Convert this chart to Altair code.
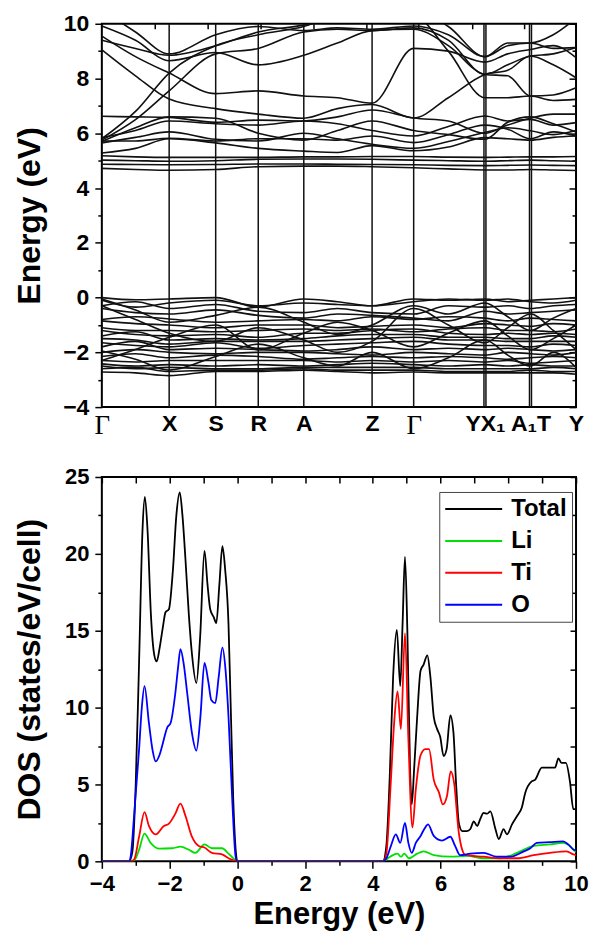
import altair as alt
import pandas as pd

# ---------------- band structure (top panel) ----------------
# k-path nodes: Γ, mid, X, S, R, A, mid, Z, Γ, mid, Y/X1, mid, A1/T, mid, Y
k_nodes = [0, 34, 68, 115, 158, 204, 238, 273, 315, 350, 387, 410, 433, 456, 479]
sym_lines = [68, 115, 158, 204, 273, 315, 386, 388, 432, 434]
sym_label_k = [0, 68, 115, 158, 204, 273, 315, 387, 433, 479]
sym_labels = ["Γ", "X", "S", "R", "A", "Z", "Γ", "YX₁", "A₁T", "Y"]

conduction_bands = [
    [4.72, 4.68, 4.65, 4.68, 4.78, 4.80, 4.80, 4.78, 4.74, 4.70, 4.66, 4.66, 4.68, 4.66, 4.64],
    [4.87, 4.86, 4.85, 4.86, 4.88, 4.88, 4.87, 4.86, 4.85, 4.83, 4.82, 4.83, 4.84, 4.83, 4.82],
    [5.02, 5.00, 4.98, 5.00, 5.05, 5.06, 5.06, 5.05, 5.02, 5.00, 4.98, 5.00, 5.02, 5.00, 4.98],
    [5.18, 5.14, 5.12, 5.12, 5.12, 5.14, 5.14, 5.15, 5.15, 5.13, 5.12, 5.13, 5.14, 5.14, 5.15],
    [5.28, 5.45, 5.80, 5.65, 5.45, 5.35, 5.30, 5.55, 5.36, 5.50, 5.84, 5.80, 5.75, 5.85, 5.90],
    [5.65, 5.85, 6.05, 5.78, 5.72, 6.00, 5.80, 5.60, 5.45, 5.70, 6.03, 6.20, 6.09, 5.95, 6.10],
    [5.72, 5.72, 5.82, 5.72, 5.80, 5.80, 5.75, 5.90, 5.66, 5.95, 6.30, 6.15, 5.80, 6.05, 5.90],
    [5.84, 6.10, 6.45, 6.35, 6.30, 6.45, 6.35, 6.10, 5.90, 6.25, 6.63, 6.45, 6.51, 6.30, 6.39],
    [6.62, 6.60, 6.58, 6.40, 6.48, 6.45, 6.60, 6.85, 6.56, 6.45, 6.00, 6.30, 6.55, 6.70, 6.70],
    [5.75, 6.50, 7.55, 8.90, 9.10, 9.70, 9.80, 9.75, 9.85, 9.40, 8.15, 8.50, 8.82, 8.90, 9.13],
    [5.80, 6.80, 8.20, 9.20, 9.60, 9.90, 10.3, 10.3, 10.5, 9.90, 8.80, 9.30, 9.30, 9.60, 10.2],
    [9.55, 8.80, 8.20, 7.45, 7.55, 7.36, 7.30, 7.10, 9.10, 9.00, 8.60, 8.90, 9.06, 9.20, 8.76],
    [9.05, 8.10, 7.25, 6.90, 6.70, 6.55, 6.90, 7.05, 6.56, 7.30, 8.15, 8.30, 8.82, 8.50, 8.03],
    [9.92, 9.40, 8.65, 8.95, 8.50, 8.85, 9.30, 9.75, 9.80, 9.20, 8.15, 8.10, 7.36, 7.40, 7.66],
    [10.5, 9.70, 8.90, 9.60, 9.90, 9.75, 9.85, 9.80, 9.92, 9.60, 8.80, 9.20, 9.30, 9.10, 9.13],
    [9.40, 9.10, 8.85, 9.20, 9.70, 9.95, 10.2, 10.4, 10.3, 9.00, 7.30, 7.30, 7.36, 7.20, 7.24],
    [5.70, 6.20, 6.60, 6.55, 6.00, 5.75, 6.10, 6.45, 6.10, 5.95, 5.78, 6.40, 6.60, 6.35, 6.05],
]

valence_bands = [
    [0.00, -0.08, -0.05, 0.00, -0.35, -0.05, -0.15, -0.30, -0.05, -0.10, -0.05, -0.15, -0.10, -0.05, 0.00],
    [-0.10, -0.35, -0.20, -0.10, -0.30, -0.20, -0.25, -0.30, -0.15, -0.05, -0.10, -0.05, -0.15, -0.20, -0.10],
    [-0.30, -0.15, -0.40, -0.25, -0.50, -0.55, -0.40, -0.55, -0.60, -0.30, -0.35, -0.30, -0.40, -0.30, -0.25],
    [-0.40, -0.55, -0.60, -0.45, -0.65, -0.75, -0.60, -0.65, -0.75, -0.85, -0.50, -0.60, -0.55, -0.50, -0.45],
    [-0.80, -0.70, -0.78, -0.90, -0.85, -0.80, -0.85, -0.70, -0.80, -0.70, -0.75, -0.85, -0.75, -0.80, -0.85],
    [-0.85, -0.95, -1.00, -1.10, -1.00, -1.00, -1.10, -1.05, -1.00, -1.10, -0.95, -1.00, -1.05, -0.95, -1.00],
    [-1.10, -1.20, -1.20, -1.25, -1.20, -1.15, -1.20, -1.15, -1.25, -1.15, -1.10, -1.20, -1.20, -1.25, -1.15],
    [-1.20, -1.35, -1.40, -1.35, -1.45, -1.30, -1.30, -1.20, -1.15, -1.30, -1.35, -1.30, -1.35, -1.30, -1.35],
    [-1.40, -1.25, -1.55, -1.50, -1.55, -1.50, -1.40, -1.35, -1.35, -1.45, -1.45, -1.50, -1.50, -1.40, -1.45],
    [-1.50, -1.55, -1.70, -1.60, -1.60, -1.60, -1.55, -1.50, -1.45, -1.55, -1.55, -1.60, -1.60, -1.60, -1.60],
    [-1.65, -1.75, -1.80, -1.65, -1.85, -1.75, -1.70, -1.65, -1.60, -1.70, -1.75, -1.75, -1.80, -1.70, -1.75],
    [-1.80, -1.60, -1.90, -1.85, -1.90, -1.95, -1.90, -1.80, -1.90, -1.85, -1.90, -1.85, -1.90, -1.95, -1.90],
    [-2.00, -1.90, -2.00, -2.05, -2.00, -2.00, -2.05, -2.10, -2.00, -2.05, -2.10, -2.00, -2.05, -2.10, -2.00],
    [-2.15, -2.05, -2.20, -2.10, -2.15, -2.25, -2.20, -2.15, -2.20, -2.15, -2.20, -2.25, -2.20, -2.15, -2.20],
    [-2.30, -2.35, -2.30, -2.30, -2.30, -2.30, -2.35, -2.30, -2.35, -2.30, -2.35, -2.30, -2.40, -2.35, -2.30],
    [-2.42, -2.50, -2.45, -2.50, -2.45, -2.50, -2.45, -2.40, -2.45, -2.50, -2.45, -2.50, -2.45, -2.50, -2.50],
    [-2.50, -2.60, -2.55, -2.60, -2.60, -2.55, -2.55, -2.55, -2.55, -2.60, -2.60, -2.60, -2.60, -2.55, -2.60],
    [-2.60, -2.55, -2.70, -2.65, -2.65, -2.60, -2.65, -2.65, -2.65, -2.70, -2.70, -2.70, -2.65, -2.70, -2.70],
    [-2.72, -2.75, -2.85, -2.70, -2.70, -2.65, -2.70, -2.75, -2.72, -2.75, -2.75, -2.75, -2.75, -2.75, -2.80],
    [-2.30, -1.90, -1.45, -1.00, -1.90, -1.30, -0.90, -1.20, -1.80, -1.30, -0.85, -1.40, -1.90, -1.50, -1.00],
    [-0.30, -0.80, -1.30, -1.60, -1.10, -1.55, -2.00, -1.60, -0.40, -1.00, -1.65, -1.10, -0.60, -1.20, -1.90],
    [-1.95, -2.25, -2.65, -2.15, -1.70, -2.20, -2.50, -2.00, -2.60, -2.20, -1.55, -2.10, -2.50, -2.00, -2.55],
    [-0.05, -0.45, -0.90, -0.65, -0.35, -0.90, -1.35, -1.00, -0.30, -0.60, -0.20, -0.70, -1.20, -0.75, -0.40],
]

band_major = [-4, -2, 0, 2, 4, 6, 8, 10]
band_minor = [-3, -1, 1, 3, 5, 7, 9]
band_top_ticks = [53, 107, 160, 214, 267, 320, 374, 427]

# ---------------- density of states (bottom panel) ----------------
total_E = [-4.0, -3.2, -3.1, -3.0, -2.9, -2.8, -2.73, -2.65, -2.55, -2.45, -2.38, -2.3, -2.2, -2.12,
           -2.02, -1.9, -1.8, -1.70, -1.62, -1.53, -1.43, -1.34, -1.21, -1.1, -0.97, -0.88, -0.80,
           -0.70, -0.62, -0.53, -0.44, -0.36, -0.26, -0.2, -0.12, -0.05, 0.0, 4.3, 4.4, 4.5, 4.6,
           4.71, 4.81, 4.88, 4.95, 5.02, 5.10, 5.15, 5.22, 5.31, 5.41, 5.50, 5.61, 5.70, 5.80, 5.90,
           5.99, 6.09, 6.18, 6.29, 6.38, 6.46, 6.54, 6.64, 6.78, 6.88, 6.98, 7.08, 7.18, 7.27, 7.38,
           7.47, 7.62, 7.72, 7.86, 7.96, 8.11, 8.26, 8.40, 8.50, 8.69, 8.79, 8.99, 9.10, 9.23, 9.38,
           9.48, 9.57, 9.70, 9.82, 9.92, 10.0]
total_D = [0, 0, 0.6, 5.0, 13.0, 21.5, 23.7, 21.5, 16.0, 13.4, 13.0, 13.8, 15.2, 16.2,
           16.4, 19.0, 22.5, 24.0, 22.5, 19.6, 16.0, 13.5, 11.6, 14.5, 20.2, 18.0, 16.4,
           15.9, 15.5, 18.0, 20.5, 19.0, 15.4, 10.5, 4.0, 0.8, 0, 0, 1.0, 5.5, 12.0,
           15.06, 11.4, 15.5, 19.8, 15.0, 6.0, 3.7, 6.0, 9.4, 12.4, 12.8, 13.4, 12.0, 9.4, 8.6,
           8.1, 6.85, 7.3, 9.5, 8.4, 5.0, 2.5, 1.97, 1.97, 2.1, 2.6, 2.3, 2.8, 3.15, 3.1,
           3.25, 2.1, 1.45, 2.1, 1.75, 2.4, 2.95, 3.5, 4.45, 5.2, 5.3, 6.1, 6.1, 6.1, 6.1,
           6.7, 6.4, 6.4, 5.2, 3.4, 3.4]

li_E = [-4.0, -3.1, -3.0, -2.9, -2.74, -2.56, -2.31, -1.92, -1.68, -1.43, -1.24, -0.97, -0.75, -0.45,
        -0.26, -0.07, 0.0, 4.3, 4.51, 4.73, 4.83, 4.93, 5.07, 5.31, 5.50, 5.80, 6.29, 6.78, 7.27,
        7.76, 8.26, 8.75, 9.23, 9.62, 9.82, 9.97, 10.0]
li_D = [0, 0, 0.2, 0.75, 1.8, 1.2, 0.82, 0.85, 0.95, 0.75, 0.55, 1.1, 0.85, 0.85,
        0.5, 0.1, 0, 0, 0.3, 0.5, 0.3, 0.5, 0.2, 0.5, 0.65, 0.4, 0.3, 0.35, 0.2,
        0.2, 0.55, 1.0, 1.1, 1.2, 1.0, 0.65, 0.6]

ti_E = [-4.0, -3.15, -3.05, -2.9, -2.74, -2.61, -2.41, -2.17, -2.02, -1.83, -1.68, -1.53, -1.34, -1.14,
        -0.97, -0.75, -0.45, -0.26, -0.1, 0.0, 4.3, 4.4, 4.53, 4.63, 4.73, 4.83, 4.95, 5.05, 5.17,
        5.27, 5.41, 5.55, 5.66, 5.80, 5.95, 6.07, 6.19, 6.30, 6.40, 6.54, 6.64, 6.74, 7.27, 7.76,
        8.26, 8.75, 9.23, 9.72, 9.92, 10.0]
ti_D = [0, 0, 0.1, 1.6, 3.2, 2.3, 1.75, 2.3, 2.45, 3.1, 3.75, 2.95, 1.6, 1.0,
        0.9, 0.55, 0.45, 0.2, 0.05, 0, 0, 0.5, 5.1, 9.0, 11.06, 8.6, 14.85, 8.0, 2.2,
        4.7, 6.9, 7.3, 7.3, 5.3, 4.5, 3.7, 4.25, 5.85, 5.1, 1.85, 0.75, 0.4, 0.3, 0.2,
        0.2, 0.4, 0.55, 0.65, 0.45, 0.4]

o_E = [-4.0, -3.2, -3.15, -3.05, -2.9, -2.82, -2.74, -2.61, -2.5, -2.41, -2.3, -2.22, -2.07, -1.97,
       -1.83, -1.75, -1.68, -1.58, -1.48, -1.34, -1.21, -1.09, -0.97, -0.85, -0.77, -0.65, -0.55,
       -0.44, -0.35, -0.26, -0.15, -0.05, 0.0, 4.3, 4.4, 4.53, 4.68, 4.81, 4.95, 5.05, 5.15, 5.27,
       5.41, 5.52, 5.63, 5.80, 6.04, 6.29, 6.43, 6.58, 6.88, 7.27, 7.66, 8.06, 8.46, 8.65, 8.84,
       9.23, 9.62, 9.77, 9.92, 10.0]
o_D = [0, 0, 0.3, 2.9, 7.3, 10.0, 11.4, 9.0, 7.2, 6.5, 6.9, 7.5, 8.7, 9.0,
       10.95, 12.6, 13.8, 12.8, 10.95, 8.35, 7.2, 9.4, 12.9, 11.6, 10.5, 10.3, 12.0,
       13.9, 12.5, 9.4, 4.0, 0.3, 0, 0, 0.2, 0.97, 1.75, 1.2, 2.5, 1.2, 0.55, 1.2,
       1.65, 2.1, 2.4, 1.65, 1.35, 1.6, 1.0, 0.4, 0.5, 0.55, 0.3, 0.3, 0.65, 0.85, 1.2,
       1.25, 1.3, 1.1, 0.77, 0.7]

series_names = ["Total", "Li", "Ti", "O"]
series_colors = ["#000000", "#00e000", "#ff0000", "#0000ff"]

dos_major_x = [-4, -2, 0, 2, 4, 6, 8, 10]
dos_minor_x = [-3, -1, 1, 3, 5, 7, 9]
dos_all_x = [-4, -3, -2, -1, 0, 1, 2, 3, 4, 5, 6, 7, 8, 9, 10]
dos_major_y = [0, 5, 10, 15, 20, 25]
dos_minor_y = [2.5, 7.5, 12.5, 17.5, 22.5]
dos_right_y = [0, 2.5, 5, 7.5, 10, 12.5, 15, 17.5, 20, 22.5, 25]

# ---------------- tables ----------------
band_rows = []
for i, b in enumerate(conduction_bands + valence_bands):
    for k, e in zip(k_nodes, b):
        band_rows.append({"band": f"b{i}", "k": k, "E": e})
df_bands = pd.DataFrame(band_rows)

dos_rows = []
for name, es, ds in [("Total", total_E, total_D), ("Li", li_E, li_D), ("Ti", ti_E, ti_D), ("O", o_E, o_D)]:
    for e, d in zip(es, ds):
        dos_rows.append({"series": name, "E": e, "D": d})
df_dos = pd.DataFrame(dos_rows)

FONT = "Liberation Sans"
W = 475
H_TOP = 384
H_BOT = 385
SPACING = 26

# ---------------- top panel ----------------
xs_band = alt.Scale(domain=[0, 479], nice=False, zero=False)
ys_band = alt.Scale(domain=[-4, 10], nice=False, zero=False)
label_expr = " : ".join(f"datum.value == {k} ? '{s}'" for k, s in zip(sym_label_k, sym_labels)) + " : ''"
gamma_test = "datum.value == 0 || datum.value == 315"


def blank_axis(**kw):
    base = dict(labels=False, domain=False, grid=False, title=None, minExtent=0, maxExtent=0)
    base.update(kw)
    return alt.Axis(**base)


bands_layer = alt.Chart(df_bands).mark_line(
    interpolate="monotone", clip=True, color="#111111", strokeWidth=1.6
).encode(
    x=alt.X("k:Q", scale=xs_band, axis=alt.Axis(
        orient="bottom", values=sym_label_k, labelExpr=label_expr, ticks=False, domain=False,
        grid=False, labelOverlap=False, labelFlush=False, labelBound=False, labelPadding=5,
        labelFont={"condition": {"test": gamma_test, "value": "Liberation Serif"}, "value": FONT},
        labelFontSize={"condition": {"test": gamma_test, "value": 27}, "value": 23},
        labelFontWeight={"condition": {"test": gamma_test, "value": "normal"}, "value": "bold"},
        title=None)),
    y=alt.Y("E:Q", scale=ys_band, axis=alt.Axis(
        orient="left", values=band_major, tickSize=7, labelPadding=6, labelFontSize=23,
        domain=False, grid=False, title="Energy (eV)", titleFontSize=32, titlePadding=11,
        minExtent=44, maxExtent=44)),
    detail="band:N",
)

df_sym = pd.DataFrame({"k": sym_lines, "lo": [-4] * len(sym_lines), "hi": [10] * len(sym_lines)})
sym_rules = alt.Chart(df_sym).mark_rule(color="#111111", strokeWidth=1.5).encode(
    x=alt.X("k:Q", scale=xs_band, axis=None),
    y=alt.Y("lo:Q", scale=ys_band, axis=None),
    y2="hi:Q",
)


def y_axis_layer(values, axis):
    df = pd.DataFrame({"k": [240] * len(values), "E": values})
    return alt.Chart(df).mark_point(opacity=0, size=1).encode(
        x=alt.X("k:Q", scale=xs_band, axis=None),
        y=alt.Y("E:Q", scale=ys_band, axis=axis))


band_left_minor = y_axis_layer(band_minor, blank_axis(orient="left", values=band_minor, tickSize=4))
band_right_major = y_axis_layer(band_major, blank_axis(orient="right", values=band_major, tickSize=7, offset=-7))
band_right_minor = y_axis_layer(band_minor, blank_axis(orient="right", values=band_minor, tickSize=4, offset=-4))
df_bt = pd.DataFrame({"k": band_top_ticks, "E": [3] * len(band_top_ticks)})
band_top = alt.Chart(df_bt).mark_point(opacity=0, size=1).encode(
    x=alt.X("k:Q", scale=xs_band, axis=blank_axis(orient="top", values=band_top_ticks, tickSize=5, offset=-5)),
    y=alt.Y("E:Q", scale=ys_band, axis=None))

top = alt.layer(
    bands_layer, sym_rules, band_left_minor, band_right_major, band_right_minor, band_top
).resolve_axis(x="independent", y="independent").properties(width=W, height=H_TOP)

# ---------------- bottom panel ----------------
xs_dos = alt.Scale(domain=[-4, 10], nice=False, zero=False)
ys_dos = alt.Scale(domain=[0, 25], nice=False, zero=False)
color_scale = alt.Scale(domain=series_names, range=series_colors)
legend = alt.Legend(
    orient="none", legendX=338, legendY=469, title=None, symbolType="stroke", symbolSize=3249,
    symbolStrokeWidth=2, clipHeight=24, rowPadding=8, labelFontSize=24, labelFont=FONT,
    labelFontWeight="bold", labelColor="black", labelOffset=8, padding=5, strokeColor="#444444",
    fillColor="white", symbolOffset=0,
)


def dos_line(name, main):
    if main:
        xax = alt.Axis(orient="bottom", values=dos_major_x, tickSize=7, labelPadding=5, labelFontSize=22,
                       domain=False, grid=False, labelFlush=False, title="Energy (eV)", titleFontSize=31,
                       titlePadding=6, minExtent=32, maxExtent=32)
        yax = alt.Axis(orient="left", values=dos_major_y, tickSize=7, labelPadding=6, labelFontSize=22,
                       domain=False, grid=False, title="DOS (states/eV/cell)", titleFontSize=32,
                       titlePadding=11, minExtent=44, maxExtent=44)
    else:
        xax = None
        yax = None
    return alt.Chart(df_dos).transform_filter(alt.datum.series == name).mark_line(
        interpolate="monotone", clip=True, strokeWidth=1.8
    ).encode(
        x=alt.X("E:Q", scale=xs_dos, axis=xax),
        y=alt.Y("D:Q", scale=ys_dos, axis=yax),
        color=alt.Color("series:N", scale=color_scale, legend=legend),
    )


def dos_x_layer(values, axis):
    df = pd.DataFrame({"E": values, "D": [10] * len(values)})
    return alt.Chart(df).mark_point(opacity=0, size=1).encode(
        x=alt.X("E:Q", scale=xs_dos, axis=axis),
        y=alt.Y("D:Q", scale=ys_dos, axis=None))


def dos_y_layer(values, axis):
    df = pd.DataFrame({"E": [3] * len(values), "D": values})
    return alt.Chart(df).mark_point(opacity=0, size=1).encode(
        x=alt.X("E:Q", scale=xs_dos, axis=None),
        y=alt.Y("D:Q", scale=ys_dos, axis=axis))


dos_bottom_minor = dos_x_layer(dos_minor_x, blank_axis(orient="bottom", values=dos_minor_x, tickSize=4))
dos_top_ticks = dos_x_layer(dos_all_x, blank_axis(orient="top", values=dos_all_x, tickSize=6, offset=-6))
dos_left_minor = dos_y_layer(dos_minor_y, blank_axis(orient="left", values=dos_minor_y, tickSize=4))
dos_right = dos_y_layer(dos_right_y, blank_axis(orient="right", values=dos_right_y, tickSize=6, offset=-6))

bottom = alt.layer(
    dos_line("Total", True), dos_line("Li", False), dos_line("Ti", False), dos_line("O", False),
    dos_bottom_minor, dos_top_ticks, dos_left_minor, dos_right,
).resolve_axis(x="independent", y="independent").properties(width=W, height=H_BOT)

chart = alt.vconcat(top, bottom, spacing=SPACING).properties(
    padding={"left": 5, "right": 0, "top": 3, "bottom": 0}
).configure_view(stroke="black", strokeWidth=2).configure_axis(
    labelFont=FONT, labelFontWeight="bold", labelColor="black", tickColor="black", tickWidth=1.5,
    titleFont=FONT, titleFontWeight="bold", titleColor="black",
)

chart.save("out.html", embed_options={"renderer": "svg", "actions": False})
